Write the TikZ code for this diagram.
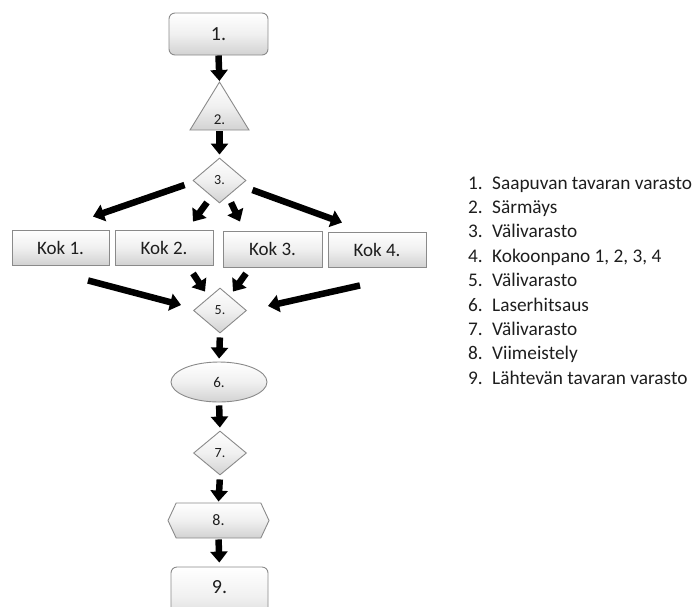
\documentclass[tikz,border=0pt]{standalone}
\usepackage{fontspec}
\setmainfont{Carlito}
\usetikzlibrary{shapes.geometric,shapes.symbols,arrows.meta,calc}
\definecolor{edge}{HTML}{8A8A8A}
\definecolor{txt}{HTML}{1E1E1E}
\definecolor{shadeb}{HTML}{D2D2D2}
\definecolor{shadem}{HTML}{F0F0F0}
\begin{document}
\begin{tikzpicture}[x=1pt,y=-1pt,
  base/.style={draw=edge, line width=0.9pt, top color=white, bottom color=shadeb, middle color=shadem, inner sep=0pt, text=txt},
  rbox/.style={base, rectangle, rounded corners=6pt, font=\fontsize{20}{22}\selectfont},
  kok/.style={base, rectangle, font=\fontsize{19}{22}\selectfont},
  dia/.style={base, diamond, minimum width=53pt, minimum height=45pt, font=\fontsize{14}{16}\selectfont},
  arr/.style={line width=6.5pt, -{Triangle[length=11pt,width=17pt]}},
  leg/.style={anchor=base west, inner sep=0pt, text=txt, font=\fontsize{19.3}{23}\selectfont}
]
\useasboundingbox (0,0) rectangle (695,606);
\clip (0,0) rectangle (695,606);

% nodes
\node[rbox, minimum width=99pt, minimum height=42pt] (n1) at (218.5,34) {1.};
\path[base] (219.5,82) -- (249,130) -- (190,130) -- cycle;
\coordinate (n2top) at (219.5,82);
\coordinate (n2bot) at (219.5,130);
\node[inner sep=0pt, text=txt, font=\fontsize{15}{17}\selectfont] (n2) at (219.5,120) {2.};
\node[dia] (n3) at (219.5,180.5) {3.};
\node[kok, minimum width=97pt, minimum height=35pt] (k1) at (60.5,247.5) {Kok 1.};
\node[kok, minimum width=98pt, minimum height=35pt] (k2) at (164,247.5) {Kok 2.};
\node[kok, minimum width=99pt, minimum height=36pt] (k3) at (272.5,249) {Kok 3.};
\node[kok, minimum width=98pt, minimum height=35pt] (k4) at (377,249.5) {Kok 4.};
\node[dia] (n5) at (220,310.5) {5.};
\node[base, ellipse, minimum width=96pt, minimum height=40pt, font=\fontsize{15}{17}\selectfont] (n6) at (219,382) {6.};
\node[dia, minimum height=44pt] (n7) at (220,453) {7.};
\node[base, signal, signal to=east and west, signal pointer angle=130, minimum width=101pt, minimum height=35pt, font=\fontsize{16}{18}\selectfont] (n8) at (218.5,520.5) {8.};
\node[rbox, minimum width=97pt, minimum height=60pt] (n9) at (219.5,597) {};
\node[inner sep=0pt, text=txt, font=\fontsize{20}{22}\selectfont] (n9t) at (219.5,587) {9.};

% vertical connectors
\draw[arr, shorten >=1pt] (n1.south) -- (n2top);
\draw[arr, shorten <=1pt, shorten >=3pt] (n2bot) -- (n3.north);
\draw[arr, shorten <=4pt, shorten >=3pt] (n5.south) -- (n6.north);
\draw[arr, shorten <=3pt, shorten >=3pt] (n6.south) -- (n7.north);
\draw[arr, shorten <=4pt, shorten >=1pt] (n7.south) -- (n8.north);
\draw[arr, shorten <=1pt, shorten >=4pt] (n8.south) -- (n9.north);

% diagonal connectors
\draw[arr] ($(n3.west)+(-8,4.5)$) -- ($(k1.north)+(32.5,-13)$);
\draw[arr] ($(n3.south)+(-12.5,-1)$) -- ($(k2.north)+(29,-8)$);
\draw[arr] ($(n3.south)+(11.5,-1)$) -- ($(k3.north)+(-32.5,-9)$);
\draw[arr] ($(n3.east)+(6,9.5)$) -- ($(k4.north)+(-35,-9)$);
\draw[arr] ($(k1.south)+(27.5,15)$) -- ($(n5.west)+(-12,-5.5)$);
\draw[arr] ($(k2.south)+(29,8)$) -- ($(n5.north)+(-15,4)$);
\draw[arr] ($(k3.south)+(-26.5,6)$) -- ($(n5.north)+(13,4)$);
\draw[arr] ($(k4.south)+(-17,18)$) -- ($(n5.east)+(21,-4.5)$);

% legend
\foreach \i/\t in {1/Saapuvan tavaran varasto, 2/Särmäys, 3/Välivarasto, 4/{Kokoonpano 1, 2, 3, 4}, 5/Välivarasto, 6/Laserhitsaus, 7/Välivarasto, 8/Viimeistely, 9/Lähtevän tavaran varasto}{
  \node[leg] (ln\i) at (468, {189+(\i-1)*24.4}) {\i.};
  \node[leg] (lt\i) at (492, {189+(\i-1)*24.4}) {\t};
}
\end{tikzpicture}
\end{document}
